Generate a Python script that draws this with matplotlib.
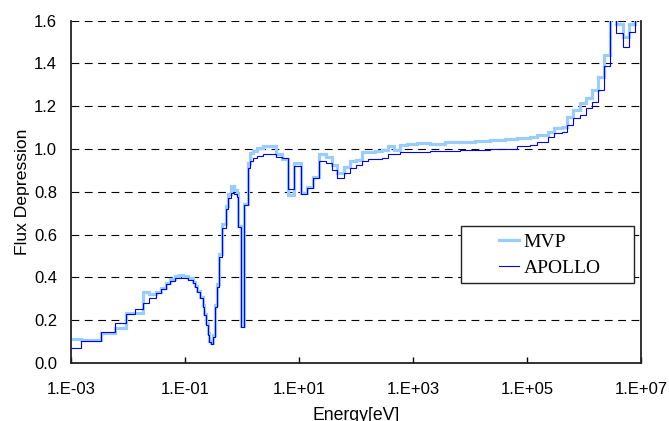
import matplotlib
matplotlib.use("Agg")
import matplotlib.pyplot as plt
from matplotlib.patches import Rectangle
from matplotlib.ticker import FixedLocator, FuncFormatter

# group boundaries [eV]
edges = [
    1.00e-3, 1.48e-3, 3.32e-3, 5.92e-3, 9.22e-3, 1.33e-2, 1.81e-2, 2.36e-2, 3.06e-2, 3.79e-2,
    4.64e-2, 5.46e-2, 6.68e-2, 7.85e-2, 9.23e-2, 0.114, 0.136, 0.150, 0.164, 0.183,
    0.204, 0.218, 0.233, 0.250, 0.267, 0.286, 0.314, 0.336, 0.360, 0.390,
    0.441, 0.518, 0.575, 0.641, 0.733, 0.807, 0.861, 0.960, 1.10, 1.26,
    1.38, 1.58, 1.85, 2.37, 3.10, 3.95, 4.97, 6.49, 8.27, 10.7,
    13.6, 17.4, 22.7, 29.4, 37.5, 47.0, 62.4, 78.5, 100.0, 130.0,
    164.0, 215.0, 282.0, 369.0, 464.0, 592.0, 775.0, 1160.0, 1990.0, 3640.0,
    6680.0, 1.22e4, 2.24e4, 4.11e4, 6.59e4, 1.13e5, 1.48e5, 2.37e5, 2.98e5, 4.06e5,
    5.09e5, 6.49e5, 8.51e5, 1.08e6, 1.40e6, 1.78e6, 2.24e6, 2.86e6, 3.64e6, 4.77e6,
    6.15e6, 7.85e6, 1.00e7,
]

apollo = [
    0.070, 0.103, 0.146, 0.189, 0.228, 0.251, 0.279, 0.306, 0.326, 0.345,
    0.370, 0.385, 0.396, 0.398, 0.398, 0.390, 0.373, 0.357, 0.334, 0.303,
    0.264, 0.224, 0.178, 0.131, 0.100, 0.089, 0.123, 0.264, 0.357, 0.497,
    0.630, 0.719, 0.770, 0.794, 0.789, 0.778, 0.635, 0.170, 0.739, 0.911,
    0.942, 0.957, 0.968, 0.976, 0.976, 0.965, 0.957, 0.812, 0.922, 0.790,
    0.817, 0.864, 0.945, 0.934, 0.903, 0.867, 0.890, 0.911, 0.926, 0.946,
    0.953, 0.953, 0.957, 0.976, 0.976, 0.984, 0.986, 0.988, 0.990, 0.992,
    0.994, 0.997, 1.000, 1.000, 1.012, 1.017, 1.031, 1.056, 1.074, 1.078,
    1.113, 1.145, 1.160, 1.190, 1.218, 1.274, 1.386, 1.800, 1.542, 1.475,
    1.545, 1.800,
]

mvp = [
    0.114, 0.108, 0.140, 0.162, 0.235, 0.235, 0.331, 0.321, 0.330, 0.350,
    0.375, 0.392, 0.405, 0.410, 0.408, 0.395, 0.378, 0.360, 0.338, 0.310,
    0.270, 0.230, 0.185, 0.140, 0.105, 0.092, 0.130, 0.270, 0.370, 0.510,
    0.650, 0.735, 0.790, 0.828, 0.810, 0.790, 0.640, 0.175, 0.745, 0.934,
    0.980, 0.993, 1.004, 1.015, 1.012, 0.976, 0.955, 0.786, 0.937, 0.794,
    0.825, 0.870, 0.976, 0.965, 0.926, 0.887, 0.918, 0.946, 0.950, 0.984,
    0.985, 0.990, 0.996, 1.012, 0.996, 1.020, 1.024, 1.028, 1.026, 1.032,
    1.034, 1.038, 1.043, 1.045, 1.051, 1.055, 1.067, 1.082, 1.098, 1.105,
    1.149, 1.184, 1.215, 1.238, 1.277, 1.337, 1.441, 1.800, 1.586, 1.524,
    1.586, 1.800,
]

x_ticks = [1e-3, 1e-1, 1e1, 1e3, 1e5, 1e7]
y_ticks = [0.0, 0.2, 0.4, 0.6, 0.8, 1.0, 1.2, 1.4, 1.6]


def e_label(v, pos):
    exp = int(("%.0E" % v).split("E")[1])
    return "1.E%s%02d" % ("+" if exp >= 0 else "-", abs(exp))


fig = plt.figure(figsize=(6.69, 4.21), dpi=100)
ax = fig.add_axes([0.1061, 0.1378, 0.852, 0.813])

for y in y_ticks[1:]:
    ax.axhline(y, color="black", lw=0.8, ls=(0, (7, 5)), zorder=1)

ax.stairs(mvp, edges, baseline=None, color="#99ccff", lw=2.3, label="MVP", zorder=2)
ax.stairs(apollo, edges, baseline=None, color="#0000ee", lw=0.8, label="APOLLO", zorder=3)

ax.set_xscale("log")
ax.set_xlim(1e-3, 1e7)
ax.set_ylim(0, 1.6)
ax.xaxis.set_major_locator(FixedLocator(x_ticks))
ax.xaxis.set_minor_locator(FixedLocator([]))
ax.xaxis.set_major_formatter(FuncFormatter(e_label))
ax.set_yticks(y_ticks)
ax.set_yticklabels(["%.1f" % v for v in y_ticks])

ax.spines["top"].set_visible(False)
for s in ["left", "bottom", "right"]:
    ax.spines[s].set_linewidth(1.3)
    ax.spines[s].set_color("#222222")

ax.tick_params(axis="x", direction="in", length=4, width=1, pad=14, labelsize=12)
ax.tick_params(axis="y", length=0, pad=10, labelsize=12)
for lab in ax.get_xticklabels() + ax.get_yticklabels():
    lab.set_family("Liberation Sans")

ax.set_xlabel("Energy[eV]", family="Liberation Sans", fontsize=12.7, labelpad=7)
ax.set_ylabel("Flux Depression", family="Liberation Sans", fontsize=12.6, labelpad=3)

# legend frame drawn separately so it can be wider than the entries
ax.add_patch(Rectangle((0.684, 0.234), 0.304, 0.166, transform=ax.transAxes,
                       facecolor="white", edgecolor="#222222", lw=1.0, zorder=4))
leg = ax.legend(loc="upper left", bbox_to_anchor=(0.751, 0.378), frameon=False,
                prop={"family": "Liberation Serif", "size": 14}, handlelength=1.05,
                borderpad=0, labelspacing=0.4, borderaxespad=0, handletextpad=0.2)
leg.set_zorder(5)

fig.savefig("out.png", dpi=100)
